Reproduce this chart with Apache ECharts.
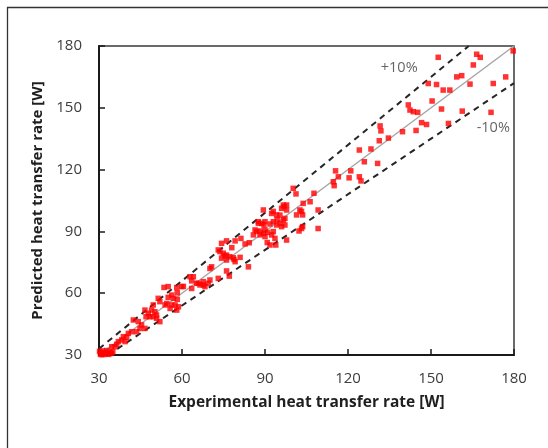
<!DOCTYPE html>
<html><head><meta charset="utf-8">
<script src="https://cdn.jsdelivr.net/npm/echarts@6/dist/echarts.min.js"></script>
<style>html,body{margin:0;padding:0;background:#fff}#c{width:548px;height:448px}</style>
</head><body><div id="c"></div>
<script>
// Tick labels
const xTicks = [30, 60, 90, 120, 150, 180];
const yTicks = [30, 60, 90, 120, 150, 180];
// Experimental (x) and predicted (y) heat transfer rates [W]
const expX = [30.5,31,31.5,32,32.5,33,33.5,34,30.2,31.2,32.8,34.5,35,30.8,
34.6,35.8,36.4,37,38.2,39.4,38.8,40,40.6,41.8,43.6,42.4,44.2,45.4,44.8,46.6,46.6,47.8,47,48.4,49.6,50.8,52,50.8,49.6,49,50.2,51.4,52,53.5,54.5,56.3,57.5,58.7,58.1,55.7,53.9,55,56.9,58.3,58.3,56.3,55,59.9,58.1,60.5,
62.9,63.5,65.9,67.7,69.5,64.1,67.7,66.5,70.1,73.1,65.3,63.5,68.3,70.7,70.1,76.1,77.1,79.2,84,73.7,74.9,75.5,74.3,77.3,78.8,81,76.1,74.3,76.1,79.2,82.8,84.3,81.3,78,73.1,76.1,78.5,
87,88.2,90,91,92.4,93.6,90.8,91.8,93.9,85.8,88.2,90,86.4,89.4,93,87.6,88.8,89.6,91.8,87.6,90,93,94.2,95.4,97.2,96,96.6,94.4,89.4,92.4,95.4,93,94.2,97.2,97.8,96,96.6,97,97.8,102.6,103.2,103.6,101.4,103.8,106.3,109.2,103.2,102.3,97.8,109.2,103.6,
100.2,101.2,107.7,
115.5,121,116.5,114.7,115,120.4,124.1,124.7,124.1,128.3,125.9,130.7,131.3,134.6,131.6,131.9,139.7,144.6,146.6,148.4,156.3,141.8,142.4,143.6,145.2,153.8,161.3,171.7,150.4,154.4,156.8,149,152,164.1,172.5,159.3,161.1,177,165.3,152.6,166.5,167.8,179.7];
const predY = [30.5,31,30.2,31.2,30.5,31,30.3,31.5,31.8,32,32.2,30.8,31.5,30.2,
34,34,35.2,36.5,37.3,36.5,38.9,38.6,40.5,41.3,41.3,47,46.2,44.6,42.9,42.9,51.8,50.2,48.6,48.6,48.6,47.8,46.2,49.4,54.3,51.8,51,57.5,55.9,62.8,55,54.3,54.3,53.4,51.8,52.6,54.3,58,57.5,57,60.2,59.1,63.2,63.2,62.7,63.3,
68,66,64.8,64,64.8,68,65.6,64,66.4,67.2,64.8,62.3,63.2,72.8,72,70.8,68.3,75.3,72.8,80.2,79.4,78.1,77,77.7,76.4,77.4,76.1,84.2,85.4,85.4,83.9,84.5,86.6,82.1,81,78.5,77.2,
89.9,90.2,90.7,89.5,88.3,86.6,84.6,83.4,83.4,88.3,88.3,87.5,90.7,89.1,89.9,93.9,93.9,93.1,93.6,94.7,94.7,94.7,93.1,93.9,93.1,92.3,95.5,95.8,100.4,98.7,97.9,99.7,98,96.3,100.4,101.2,102.8,102,102.8,100.4,99.7,98,98,103.6,104.4,100.4,91.4,90.2,85.8,91.4,92.3,
110.9,108.2,108.5,
119.4,119.4,116.5,114.1,112.2,116,116.5,114.5,129.5,130,123.8,123,134,135.3,141.2,138.8,138.4,139,142.8,141.9,142.4,151.4,148.9,148.1,147.8,149.4,148.4,147.8,153.3,158.6,158.6,161.8,161.3,161.5,161.8,165,165.6,165,170.8,174.5,176,174.5,177.6];
// Reference lines: perfect agreement and +/-10 % bands (endpoints)
const perfectLine = [[30, 30], [180, 180]];
const plusLine = [[30, 33], [163.64, 180]];
const minusLine = [[33.33, 30], [180, 162]];
const bandLabels = ['+10%', '-10%'];
const bandLabelPos = [[138.5, 169.5], [172.5, 140.2]];

const pts = expX.map((v, i) => [v, predY[i]]);
const font = "'Open Sans', 'Liberation Sans', Arial, sans-serif";
const chart = echarts.init(document.getElementById('c'), null, {renderer: 'canvas'});
chart.setOption({
  animation: false,
  backgroundColor: '#fff',
  graphic: [{type: 'rect', shape: {x: 7.5, y: 7.5, width: 600, height: 500}, style: {fill: 'none', stroke: '#333', lineWidth: 1.3}, z: -1}],
  grid: {left: 99, top: 46, right: 34, bottom: 93, show: true, borderColor: '#3a3a3a', borderWidth: 1.5, backgroundColor: 'transparent'},
  xAxis: {
    type: 'value', min: 30, max: 180, interval: 30,
    axisLine: {show: true, onZero: false, lineStyle: {color: '#1a1a1a', width: 2}},
    axisTick: {show: true, inside: true, length: 6, lineStyle: {color: '#1a1a1a', width: 1.5}},
    splitLine: {show: false},
    axisLabel: {margin: 16, color: '#3d3d3d', fontSize: 15, fontFamily: font,
      formatter: v => xTicks.includes(v) ? String(v) : ''},
    name: 'Experimental heat transfer rate [W]', nameLocation: 'middle', nameGap: 40,
    nameTextStyle: {fontSize: 15.5, fontWeight: 'bold', color: '#1f1f1f', fontFamily: font}
  },
  yAxis: {
    type: 'value', min: 30, max: 180, interval: 30,
    axisLine: {show: true, onZero: false, lineStyle: {color: '#1a1a1a', width: 2}},
    axisTick: {show: true, inside: true, length: 6, lineStyle: {color: '#1a1a1a', width: 1.5}},
    splitLine: {show: false},
    axisLabel: {margin: 17, color: '#3d3d3d', fontSize: 15, fontFamily: font,
      formatter: v => yTicks.includes(v) ? String(v) : ''},
    name: 'Predicted heat transfer rate [W]', nameLocation: 'middle', nameGap: 53,
    nameTextStyle: {fontSize: 15, fontWeight: 'bold', color: '#1f1f1f', fontFamily: font}
  },
  series: [
    {type: 'line', data: perfectLine, symbol: 'none', lineStyle: {color: '#a6a6a6', width: 1.5}, z: 2},
    {type: 'line', data: plusLine, symbol: 'none', lineStyle: {color: '#262626', width: 2, type: [6, 5]}, z: 2},
    {type: 'line', data: minusLine, symbol: 'none', lineStyle: {color: '#262626', width: 2, type: [6, 5]}, z: 2},
    {type: 'scatter', data: pts, symbol: 'rect', symbolSize: 5.5, itemStyle: {color: '#ff0000'}, z: 3},
    {type: 'scatter', symbolSize: 0, z: 4,
      data: bandLabelPos.map((p, i) => ({value: p, name: bandLabels[i]})),
      label: {show: true, position: 'inside', formatter: p => p.name, color: '#3d3d3d', fontSize: 14.5, fontFamily: font}}
  ]
});
</script></body></html>
